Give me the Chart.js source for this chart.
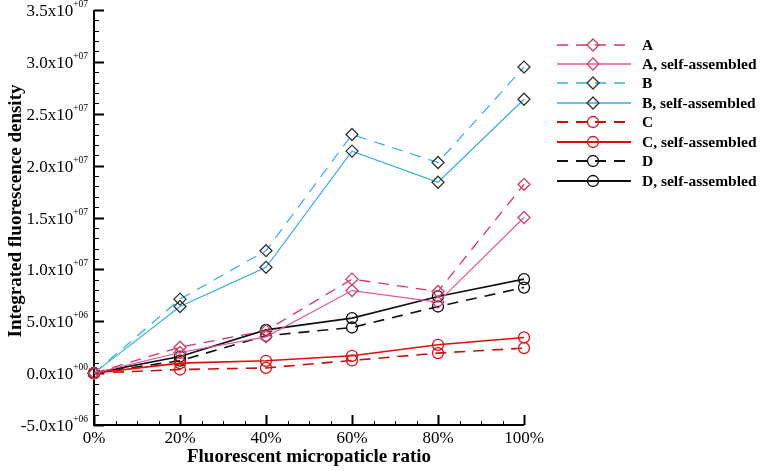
<!DOCTYPE html>
<html>
<head>
<meta charset="utf-8">
<script src="https://cdn.jsdelivr.net/npm/chart.js@4.4.0/dist/chart.umd.min.js"></script>
<style>
html,body{margin:0;padding:0;background:#fff;}
#wrap{width:763px;height:471px;position:relative;}
</style>
</head>
<body>
<div id="wrap"><canvas id="c" width="763" height="471"></canvas></div>
<script>
// ---- data ----
const ratios = [0, 20, 40, 60, 80, 100];
const xTickLabels = ['0%', '20%', '40%', '60%', '80%', '100%'];
const seriesNames = ['A', 'A, self-assembled', 'B', 'B, self-assembled', 'C', 'C, self-assembled', 'D', 'D, self-assembled'];
const valuesA   = [0, 2.5e6, 4.1e6, 9.06e6, 7.87e6, 18.2e6];
const valuesASA = [0, 1.99e6, 3.5e6, 7.96e6, 6.84e6, 15.0e6];
const valuesB   = [0, 7.13e6, 11.8e6, 23.0e6, 20.3e6, 29.5e6];
const valuesBSA = [0, 6.42e6, 10.2e6, 21.4e6, 18.4e6, 26.4e6];
const valuesC   = [0, 0.35e6, 0.5e6, 1.22e6, 1.93e6, 2.41e6];
const valuesCSA = [0, 0.96e6, 1.19e6, 1.67e6, 2.73e6, 3.44e6];
const valuesD   = [0, 1.2e6, 3.6e6, 4.4e6, 6.42e6, 8.25e6];
const valuesDSA = [0, 1.6e6, 4.17e6, 5.3e6, 7.39e6, 9.06e6];
const yTickValues = [-5e6, 0, 5e6, 1e7, 1.5e7, 2e7, 2.5e7, 3e7, 3.5e7];
const xTitle = 'Fluorescent micropaticle ratio';
const yTitle = 'Integrated fluorescence density';

// ---- styles ----
const allValues = [valuesA, valuesASA, valuesB, valuesBSA, valuesC, valuesCSA, valuesD, valuesDSA];
const lineColors = ['#d8336a', '#e0589a', '#2fb0e0', '#2fb0e0', '#c81010', '#e00c0c', '#111111', '#111111'];
const markerColors = ['#d33a5a', '#d8406e', '#333333', '#333333', '#e01010', '#e01010', '#111111', '#111111'];
const dashes = [[11, 8], [], [11, 8], [], [11, 8], [], [11, 8], []];
const widths = [1.3, 1.2, 1.2, 1.2, 1.6, 1.6, 1.6, 1.6];
const shapes = ['rectRot', 'rectRot', 'rectRot', 'rectRot', 'circle', 'circle', 'circle', 'circle'];
const radii = [6, 6, 6, 6, 5.5, 5.5, 5.5, 5.5];

const datasets = allValues.map((vals, i) => ({
  label: seriesNames[i],
  data: ratios.map((x, j) => ({x: x, y: vals[j]})),
  borderColor: lineColors[i],
  borderWidth: widths[i],
  borderDash: dashes[i],
  pointStyle: shapes[i],
  pointRadius: radii[i],
  pointBorderColor: markerColors[i],
  pointBackgroundColor: 'rgba(0,0,0,0)',
  pointBorderWidth: 1.3,
  tension: 0,
  fill: false,
  clip: false
}));

const SERIF = '"Liberation Serif", "Times New Roman", serif';

function drawMarker(ctx, shape, x, y, r, color, lw) {
  ctx.save();
  ctx.strokeStyle = color;
  ctx.lineWidth = lw;
  ctx.setLineDash([]);
  ctx.beginPath();
  if (shape === 'circle') {
    ctx.arc(x, y, r, 0, Math.PI * 2);
  } else {
    ctx.moveTo(x, y - r); ctx.lineTo(x + r, y); ctx.lineTo(x, y + r); ctx.lineTo(x - r, y); ctx.closePath();
  }
  ctx.stroke();
  ctx.restore();
}

function fmtSci(v) {
  let exp = 0, mant = 0;
  if (v !== 0) {
    exp = Math.floor(Math.log10(Math.abs(v)) + 1e-9);
    mant = v / Math.pow(10, exp);
  }
  const e = Math.abs(exp);
  return {main: mant.toFixed(1) + 'x10', sup: (exp >= 0 ? '+' : '-') + (e < 10 ? '0' + e : '' + e)};
}

const axesPlugin = {
  id: 'axesPlugin',
  beforeDatasetsDraw(chart) {
    const ctx = chart.ctx;
    const xs = chart.scales.x, ys = chart.scales.y;
    const x0 = xs.getPixelForValue(0), x1 = xs.getPixelForValue(100);
    const yTop = ys.getPixelForValue(3.5e7), yBot = ys.getPixelForValue(-5e6);
    ctx.save();
    ctx.strokeStyle = '#000';
    ctx.lineWidth = 2;
    ctx.beginPath();
    ctx.moveTo(x0, yTop); ctx.lineTo(x0, yBot); ctx.lineTo(x1, yBot);
    ctx.stroke();
    // y ticks (major every 5e6, minor every 1e6), pointing inward
    for (let v = -5e6; v <= 3.5e7 + 1; v += 1e6) {
      const p = Math.round(ys.getPixelForValue(v)) + 0.5;
      const major = Math.abs(v % 5e6) < 1;
      ctx.lineWidth = major ? 2 : 1;
      ctx.beginPath();
      ctx.moveTo(x0, p); ctx.lineTo(x0 + (major ? 10 : 5), p);
      ctx.stroke();
    }
    // x ticks (major every 20, minor every 5)
    for (let v = 0; v <= 100; v += 5) {
      const p = Math.round(xs.getPixelForValue(v)) + 0.5;
      const major = v % 20 === 0;
      ctx.lineWidth = major ? 2 : 1;
      ctx.beginPath();
      ctx.moveTo(p, yBot); ctx.lineTo(p, yBot - (major ? 10 : 4));
      ctx.stroke();
    }
    // y tick labels
    ctx.fillStyle = '#000';
    yTickValues.forEach(v => {
      const p = ys.getPixelForValue(v);
      const t = fmtSci(v);
      ctx.font = '9.5px ' + SERIF;
      const sw = ctx.measureText(t.sup).width;
      const sx = 88 - sw;
      ctx.textAlign = 'left';
      ctx.textBaseline = 'alphabetic';
      ctx.fillText(t.sup, sx, p - 3);
      ctx.font = '17px ' + SERIF;
      ctx.textAlign = 'right';
      ctx.fillText(t.main, sx, p + 6);
    });
    // x tick labels
    ctx.font = '17px ' + SERIF;
    ctx.textAlign = 'center';
    ctx.textBaseline = 'middle';
    ratios.forEach((v, i) => {
      ctx.fillText(xTickLabels[i], xs.getPixelForValue(v), yBot + 14);
    });
    // titles
    ctx.font = 'bold 19px ' + SERIF;
    ctx.fillText(xTitle, (x0 + x1) / 2, 457);
    ctx.save();
    ctx.translate(16, 211);
    ctx.rotate(-Math.PI / 2);
    ctx.fillText(yTitle, 0, 0);
    ctx.restore();
    ctx.restore();
  },
  afterDraw(chart) {
    const ctx = chart.ctx;
    const rowY = [45, 64, 83, 103, 122, 142, 161, 181];
    ctx.save();
    chart.data.datasets.forEach((ds, i) => {
      const y = rowY[i];
      ctx.strokeStyle = ds.borderColor;
      ctx.lineWidth = ds.borderWidth + 0.4;
      ctx.setLineDash(ds.borderDash);
      ctx.lineDashOffset = 0;
      ctx.beginPath();
      ctx.moveTo(557, y); ctx.lineTo(631, y);
      ctx.stroke();
      drawMarker(ctx, ds.pointStyle, 593, y, ds.pointRadius, ds.pointBorderColor, 1.3);
      ctx.setLineDash([]);
      ctx.fillStyle = '#000';
      ctx.font = 'bold 15.5px ' + SERIF;
      ctx.textAlign = 'left';
      ctx.textBaseline = 'middle';
      ctx.fillText(ds.label, 642, y + 1);
    });
    ctx.restore();
  }
};

new Chart(document.getElementById('c'), {
  type: 'line',
  data: {datasets: datasets},
  options: {
    responsive: false,
    animation: false,
    layout: {padding: {left: 94, right: 239, top: 10, bottom: 46}},
    plugins: {legend: {display: false}, tooltip: {enabled: false}},
    scales: {
      x: {type: 'linear', min: 0, max: 100, display: false},
      y: {type: 'linear', min: -5e6, max: 3.5e7, display: false}
    }
  },
  plugins: [axesPlugin]
});
</script>
</body>
</html>
